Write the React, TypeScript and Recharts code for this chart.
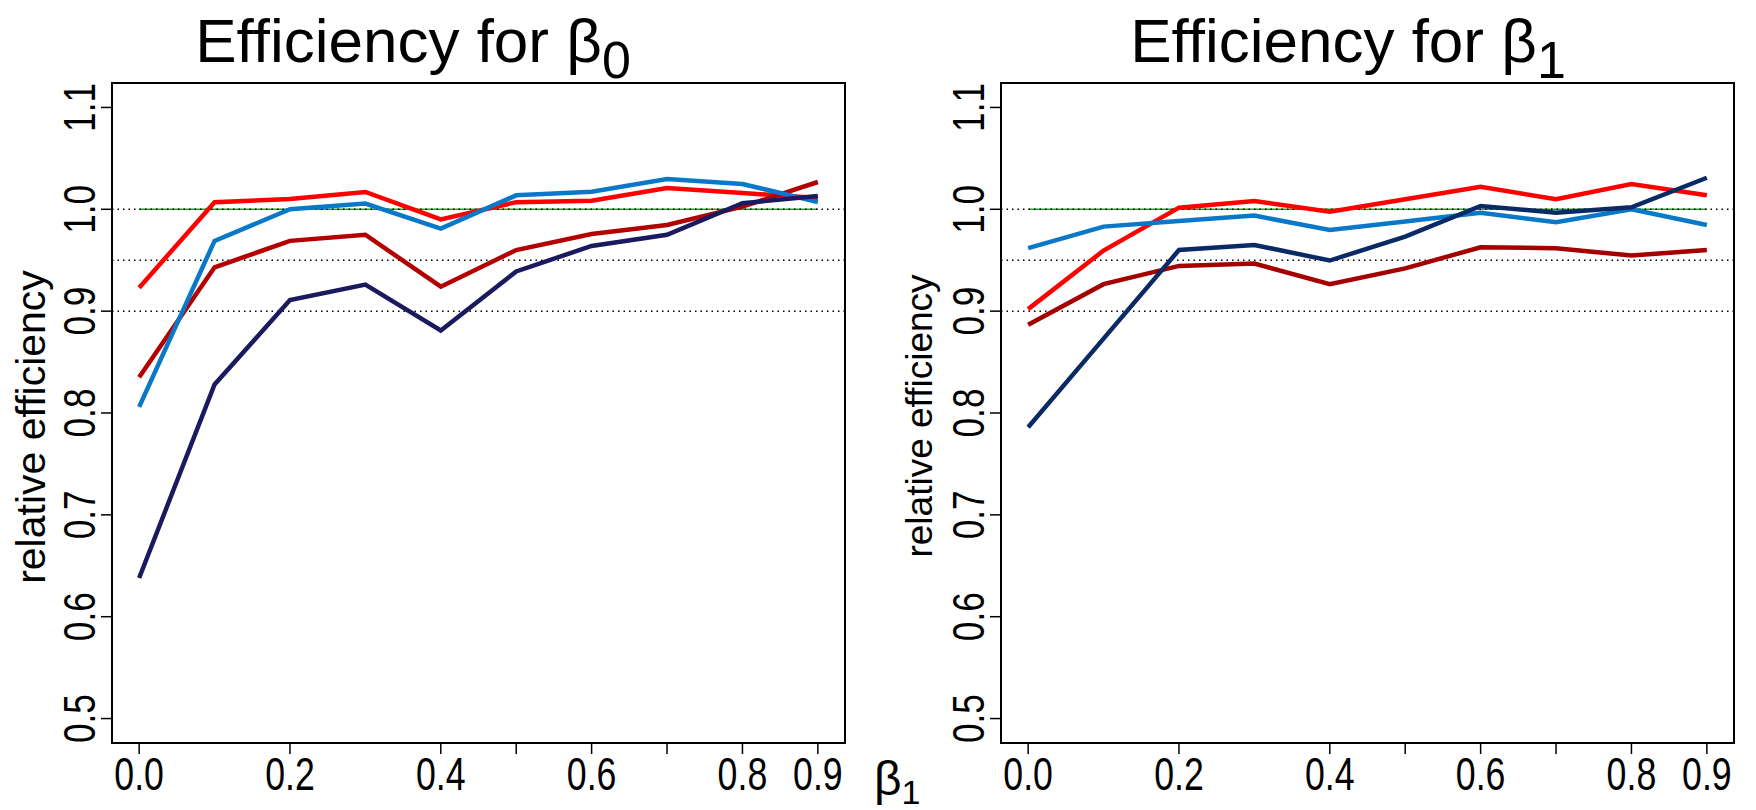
import React from 'react';
import { LineChart, Line, XAxis, YAxis, ReferenceLine, ReferenceArea } from 'recharts';

// true slope values on the simulation grid
const betaGrid = [0, 0.1, 0.2, 0.3, 0.4, 0.5, 0.6, 0.7, 0.8, 0.9];

// relative efficiency, intercept estimator
const b0Red = [0.923, 1.007, 1.010, 1.017, 0.990, 1.007, 1.0085, 1.021, 1.016, 1.011];
const b0Blue = [0.806, 0.969, 1.000, 1.0056, 0.981, 1.0137, 1.0173, 1.0297, 1.0248, 1.0072];
const b0DarkRed = [0.835, 0.943, 0.969, 0.975, 0.924, 0.960, 0.9758, 0.9846, 1.0026, 1.0268];
const b0Navy = [0.638, 0.828, 0.911, 0.926, 0.881, 0.939, 0.964, 0.975, 1.006, 1.013];

// relative efficiency, slope estimator
const b1Red = [0.902, 0.9595, 1.0016, 1.0082, 0.9977, 1.0098, 1.0222, 1.0098, 1.0248, 1.0137];
const b1Blue = [0.9618, 0.983, 0.9886, 0.9938, 0.9797, 0.988, 0.9967, 0.9873, 1.0, 0.9846];
const b1DarkRed = [0.8866, 0.9265, 0.9444, 0.9467, 0.9265, 0.942, 0.9627, 0.9618, 0.9546, 0.96];
const b1Navy = [0.786, 0.873, 0.96, 0.965, 0.9497, 0.9732, 1.0033, 0.9967, 1.002, 1.031];

const xTicks = [0, 0.2, 0.4, 0.5, 0.6, 0.7, 0.8, 0.9];
const xLabelled = [0, 0.2, 0.4, 0.6, 0.8, 0.9];
const yTicks = [0.5, 0.6, 0.7, 0.8, 0.9, 1.0, 1.1];
const dottedLevels = [1.0, 0.95, 0.9];

const X_DOMAIN: [number, number] = [-0.036, 0.936];
const Y_DOMAIN: [number, number] = [0.476, 1.124];

const FONT = "'Liberation Sans', Arial, Helvetica, sans-serif";

const AXIS_W = 60;
const AXIS_H = 50;

type Row = { b: number; red: number; blue: number; darkred: number; navy: number };

const buildRows = (red: number[], blue: number[], darkred: number[], navy: number[]): Row[] =>
  betaGrid.map((b, i) => ({ b, red: red[i], blue: blue[i], darkred: darkred[i], navy: navy[i] }));

const rowsB0 = buildRows(b0Red, b0Blue, b0DarkRed, b0Navy);
const rowsB1 = buildRows(b1Red, b1Blue, b1DarkRed, b1Navy);

const XTick = (props: any) => {
  const { x, y, payload } = props;
  const v = payload.value as number;
  if (!xLabelled.some((l) => Math.abs(l - v) < 1e-9)) return <g />;
  return (
    <text
      transform={`translate(${x},${y + 34}) scale(0.76,1)`}
      textAnchor="middle"
      fontFamily={FONT}
      fontSize={47}
      fill="#000"
    >
      {v.toFixed(1)}
    </text>
  );
};

const YTick = (props: any) => {
  const { x, y, payload } = props;
  const v = payload.value as number;
  return (
    <text
      transform={`translate(${x - 4},${y}) rotate(-90) scale(0.8,1)`}
      textAnchor="middle"
      fontFamily={FONT}
      fontSize={44}
      fill="#000"
    >
      {v.toFixed(1)}
    </text>
  );
};

type PanelProps = {
  rows: Row[];
  width: number;
  plotLeft: number;
  marginRight: number;
  darkred: string;
  navy: string;
};

const Panel = ({ rows, width, plotLeft, marginRight, darkred, navy }: PanelProps) => (
  <LineChart
    width={width}
    height={810}
    data={rows}
    margin={{ top: 83, right: marginRight, bottom: 67 - AXIS_H, left: plotLeft - AXIS_W }}
  >
    <XAxis
      dataKey="b"
      type="number"
      domain={X_DOMAIN}
      ticks={xTicks}
      interval={0}
      allowDataOverflow
      height={AXIS_H}
      tickSize={11}
      tickMargin={2}
      tickLine={{ stroke: '#000', strokeWidth: 1.5 }}
      axisLine={false}
      tick={<XTick />}
    />
    <YAxis
      type="number"
      domain={Y_DOMAIN}
      ticks={yTicks}
      interval={0}
      allowDataOverflow
      width={AXIS_W}
      tickSize={11}
      tickMargin={2}
      tickLine={{ stroke: '#000', strokeWidth: 1.5 }}
      axisLine={false}
      tick={<YTick />}
    />
    <ReferenceArea
      x1={X_DOMAIN[0]}
      x2={X_DOMAIN[1]}
      y1={Y_DOMAIN[0]}
      y2={Y_DOMAIN[1]}
      fill="none"
      stroke="#000"
      strokeWidth={2}
      ifOverflow="visible"
    />
    <ReferenceLine
      segment={[
        { x: 0, y: 1 },
        { x: 0.9, y: 1 },
      ]}
      stroke="#2aa02a"
      strokeWidth={1.5}
    />
    {dottedLevels.map((lv) => (
      <ReferenceLine key={lv} y={lv} stroke="#000" strokeWidth={1.5} strokeDasharray="1.5 4" />
    ))}
    <Line type="linear" dataKey="red" stroke="#ff0000" strokeWidth={4.5} dot={false} isAnimationActive={false} />
    <Line type="linear" dataKey="darkred" stroke={darkred} strokeWidth={4.5} dot={false} isAnimationActive={false} />
    <Line type="linear" dataKey="blue" stroke="#0a78c8" strokeWidth={4.5} dot={false} isAnimationActive={false} />
    <Line type="linear" dataKey="navy" stroke={navy} strokeWidth={4.5} dot={false} isAnimationActive={false} />
  </LineChart>
);

export default function App() {
  return (
    <div style={{ position: 'absolute', left: 0, top: 0, width: 1756, height: 810, background: '#fff', overflow: 'hidden' }}>
      <div style={{ position: 'absolute', left: 0, top: 0 }}>
        <Panel rows={rowsB0} width={880} plotLeft={112} marginRight={35} darkred="#b40000" navy="#1b1a5e" />
      </div>
      <div style={{ position: 'absolute', left: 880, top: 0 }}>
        <Panel rows={rowsB1} width={876} plotLeft={121} marginRight={22} darkred="#a50000" navy="#0a2a66" />
      </div>
      <svg
        width={1756}
        height={810}
        style={{ position: 'absolute', left: 0, top: 0, pointerEvents: 'none' }}
        fontFamily={FONT}
      >
        <text x={413} y={62} fontSize={62} textAnchor="middle" fill="#000">
          Efficiency for β<tspan fontSize={52} dy={16}>0</tspan>
        </text>
        <text x={1348} y={62} fontSize={62} textAnchor="middle" fill="#000">
          Efficiency for β<tspan fontSize={52} dy={16}>1</tspan>
        </text>
        <text transform="translate(45,427) rotate(-90)" fontSize={41} textAnchor="middle" fill="#000">
          relative efficiency
        </text>
        <text transform="translate(932,416) rotate(-90)" fontSize={37} textAnchor="middle" fill="#000">
          relative efficiency
        </text>
        <text x={874} y={795} fontSize={48} fill="#000">
          β<tspan fontSize={34} dy={9}>1</tspan>
        </text>
      </svg>
    </div>
  );
}
